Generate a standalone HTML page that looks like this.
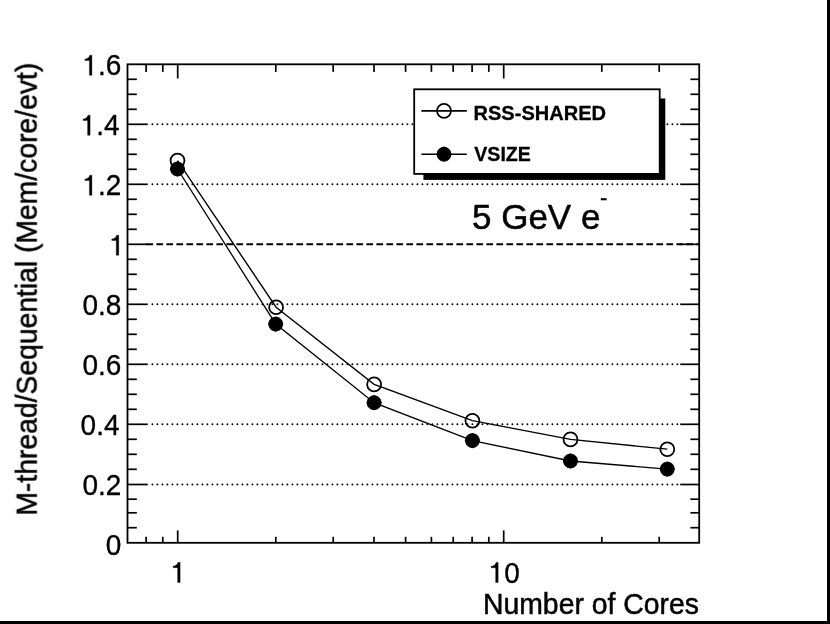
<!DOCTYPE html>
<html><head><meta charset="utf-8"><title>chart</title>
<style>html,body{margin:0;padding:0;background:#fff;}body{width:830px;height:624px;overflow:hidden;}svg{display:block;}text{font-family:"Liberation Sans",sans-serif;fill:#000;font-kerning:none;}</style>
</head><body>
<svg width="830" height="624" viewBox="0 0 830 624">
<defs><filter id="soft" x="-2%" y="-2%" width="104%" height="104%"><feGaussianBlur stdDeviation="0.6"/></filter></defs>
<rect x="0" y="0" width="830" height="624" fill="#fff"/>
<g filter="url(#soft)">
<g stroke="#000" stroke-width="1.9" stroke-dasharray="0.01 4.99" stroke-linecap="round" fill="none">
<line x1="152.4" y1="484.5" x2="678.7" y2="484.5" stroke-dashoffset="0.0"/>
<line x1="152.4" y1="424.3" x2="678.7" y2="424.3" stroke-dashoffset="0.0"/>
<line x1="152.4" y1="364.3" x2="678.7" y2="364.3" stroke-dashoffset="0.0"/>
<line x1="152.4" y1="304.3" x2="678.7" y2="304.3" stroke-dashoffset="0.0"/>
<line x1="152.4" y1="184.3" x2="678.7" y2="184.3" stroke-dashoffset="0.0"/>
<line x1="152.4" y1="124.3" x2="678.7" y2="124.3" stroke-dashoffset="0.0"/>
</g>
<line x1="146.4" y1="244.3" x2="699.2" y2="244.3" stroke="#000" stroke-width="1.9" stroke-dasharray="6.7 3.3"/>
<rect x="127.5" y="64.3" width="571.7" height="478.5" fill="none" stroke="#000" stroke-width="1.8"/>
<g stroke="#000" stroke-width="1.7" fill="none">
<line x1="127.5" y1="527.7" x2="136.8" y2="527.7"/>
<line x1="699.2" y1="527.7" x2="690.4" y2="527.7"/>
<line x1="127.5" y1="512.8" x2="136.8" y2="512.8"/>
<line x1="699.2" y1="512.8" x2="690.4" y2="512.8"/>
<line x1="127.5" y1="499.2" x2="136.8" y2="499.2"/>
<line x1="699.2" y1="499.2" x2="690.4" y2="499.2"/>
<line x1="127.5" y1="484.5" x2="147.8" y2="484.5"/>
<line x1="699.2" y1="484.5" x2="680.2" y2="484.5"/>
<line x1="127.5" y1="469.3" x2="136.8" y2="469.3"/>
<line x1="699.2" y1="469.3" x2="690.4" y2="469.3"/>
<line x1="127.5" y1="454.3" x2="136.8" y2="454.3"/>
<line x1="699.2" y1="454.3" x2="690.4" y2="454.3"/>
<line x1="127.5" y1="439.3" x2="136.8" y2="439.3"/>
<line x1="699.2" y1="439.3" x2="690.4" y2="439.3"/>
<line x1="127.5" y1="424.3" x2="147.8" y2="424.3"/>
<line x1="699.2" y1="424.3" x2="680.2" y2="424.3"/>
<line x1="127.5" y1="409.3" x2="136.8" y2="409.3"/>
<line x1="699.2" y1="409.3" x2="690.4" y2="409.3"/>
<line x1="127.5" y1="394.3" x2="136.8" y2="394.3"/>
<line x1="699.2" y1="394.3" x2="690.4" y2="394.3"/>
<line x1="127.5" y1="379.3" x2="136.8" y2="379.3"/>
<line x1="699.2" y1="379.3" x2="690.4" y2="379.3"/>
<line x1="127.5" y1="364.3" x2="147.8" y2="364.3"/>
<line x1="699.2" y1="364.3" x2="680.2" y2="364.3"/>
<line x1="127.5" y1="349.3" x2="136.8" y2="349.3"/>
<line x1="699.2" y1="349.3" x2="690.4" y2="349.3"/>
<line x1="127.5" y1="334.3" x2="136.8" y2="334.3"/>
<line x1="699.2" y1="334.3" x2="690.4" y2="334.3"/>
<line x1="127.5" y1="319.3" x2="136.8" y2="319.3"/>
<line x1="699.2" y1="319.3" x2="690.4" y2="319.3"/>
<line x1="127.5" y1="304.3" x2="147.8" y2="304.3"/>
<line x1="699.2" y1="304.3" x2="680.2" y2="304.3"/>
<line x1="127.5" y1="289.3" x2="136.8" y2="289.3"/>
<line x1="699.2" y1="289.3" x2="690.4" y2="289.3"/>
<line x1="127.5" y1="274.3" x2="136.8" y2="274.3"/>
<line x1="699.2" y1="274.3" x2="690.4" y2="274.3"/>
<line x1="127.5" y1="259.3" x2="136.8" y2="259.3"/>
<line x1="699.2" y1="259.3" x2="690.4" y2="259.3"/>
<line x1="127.5" y1="244.3" x2="147.8" y2="244.3"/>
<line x1="699.2" y1="244.3" x2="680.2" y2="244.3"/>
<line x1="127.5" y1="229.3" x2="136.8" y2="229.3"/>
<line x1="699.2" y1="229.3" x2="690.4" y2="229.3"/>
<line x1="127.5" y1="214.3" x2="136.8" y2="214.3"/>
<line x1="699.2" y1="214.3" x2="690.4" y2="214.3"/>
<line x1="127.5" y1="199.3" x2="136.8" y2="199.3"/>
<line x1="699.2" y1="199.3" x2="690.4" y2="199.3"/>
<line x1="127.5" y1="184.3" x2="147.8" y2="184.3"/>
<line x1="699.2" y1="184.3" x2="680.2" y2="184.3"/>
<line x1="127.5" y1="169.3" x2="136.8" y2="169.3"/>
<line x1="699.2" y1="169.3" x2="690.4" y2="169.3"/>
<line x1="127.5" y1="154.3" x2="136.8" y2="154.3"/>
<line x1="699.2" y1="154.3" x2="690.4" y2="154.3"/>
<line x1="127.5" y1="139.3" x2="136.8" y2="139.3"/>
<line x1="699.2" y1="139.3" x2="690.4" y2="139.3"/>
<line x1="127.5" y1="124.3" x2="147.8" y2="124.3"/>
<line x1="699.2" y1="124.3" x2="680.2" y2="124.3"/>
<line x1="127.5" y1="109.3" x2="136.8" y2="109.3"/>
<line x1="699.2" y1="109.3" x2="690.4" y2="109.3"/>
<line x1="127.5" y1="94.3" x2="136.8" y2="94.3"/>
<line x1="699.2" y1="94.3" x2="690.4" y2="94.3"/>
<line x1="127.5" y1="79.3" x2="136.8" y2="79.3"/>
<line x1="699.2" y1="79.3" x2="690.4" y2="79.3"/>
<line x1="146.1" y1="542.8" x2="146.1" y2="536.8"/>
<line x1="146.1" y1="64.3" x2="146.1" y2="71.9"/>
<line x1="162.8" y1="542.8" x2="162.8" y2="536.8"/>
<line x1="162.8" y1="64.3" x2="162.8" y2="71.9"/>
<line x1="177.7" y1="542.8" x2="177.7" y2="530.4"/>
<line x1="177.7" y1="64.3" x2="177.7" y2="78.5"/>
<line x1="275.8" y1="542.8" x2="275.8" y2="536.8"/>
<line x1="275.8" y1="64.3" x2="275.8" y2="71.9"/>
<line x1="333.2" y1="542.8" x2="333.2" y2="536.8"/>
<line x1="333.2" y1="64.3" x2="333.2" y2="71.9"/>
<line x1="374.0" y1="542.8" x2="374.0" y2="536.8"/>
<line x1="374.0" y1="64.3" x2="374.0" y2="71.9"/>
<line x1="405.6" y1="542.8" x2="405.6" y2="536.8"/>
<line x1="405.6" y1="64.3" x2="405.6" y2="71.9"/>
<line x1="431.4" y1="542.8" x2="431.4" y2="536.8"/>
<line x1="431.4" y1="64.3" x2="431.4" y2="71.9"/>
<line x1="453.2" y1="542.8" x2="453.2" y2="536.8"/>
<line x1="453.2" y1="64.3" x2="453.2" y2="71.9"/>
<line x1="472.1" y1="542.8" x2="472.1" y2="536.8"/>
<line x1="472.1" y1="64.3" x2="472.1" y2="71.9"/>
<line x1="488.8" y1="542.8" x2="488.8" y2="536.8"/>
<line x1="488.8" y1="64.3" x2="488.8" y2="71.9"/>
<line x1="503.7" y1="542.8" x2="503.7" y2="530.4"/>
<line x1="503.7" y1="64.3" x2="503.7" y2="78.5"/>
<line x1="601.8" y1="542.8" x2="601.8" y2="536.8"/>
<line x1="601.8" y1="64.3" x2="601.8" y2="71.9"/>
<line x1="659.2" y1="542.8" x2="659.2" y2="536.8"/>
<line x1="659.2" y1="64.3" x2="659.2" y2="71.9"/>
</g>
<polyline points="177.5,160.6 276.1,307.2 374.1,384.4 472.4,420.7 570.5,439.4 667.3,449.2" fill="none" stroke="#000" stroke-width="1.35"/>
<polyline points="177.5,169.0 275.7,324.1 374.1,402.7 472.4,440.6 570.5,461.0 667.3,469.1" fill="none" stroke="#000" stroke-width="1.35"/>
<circle cx="177.5" cy="160.6" r="6.95" fill="none" stroke="#000" stroke-width="1.75"/>
<circle cx="276.1" cy="307.2" r="6.95" fill="none" stroke="#000" stroke-width="1.75"/>
<circle cx="374.1" cy="384.4" r="6.95" fill="none" stroke="#000" stroke-width="1.75"/>
<circle cx="472.4" cy="420.7" r="6.95" fill="none" stroke="#000" stroke-width="1.75"/>
<circle cx="570.5" cy="439.4" r="6.95" fill="none" stroke="#000" stroke-width="1.75"/>
<circle cx="667.3" cy="449.2" r="6.95" fill="none" stroke="#000" stroke-width="1.75"/>
<circle cx="177.5" cy="169.0" r="7.4" fill="#000" fill-opacity="0.6"/><polygon points="177.5,161.4 181.2,162.7 183.8,165.3 185.1,169.0 183.8,172.7 181.2,175.3 177.5,176.6 173.8,175.3 171.2,172.7 169.9,169.0 171.2,165.3 173.8,162.7" fill="#000"/>
<circle cx="275.7" cy="324.1" r="7.4" fill="#000" fill-opacity="0.6"/><polygon points="275.7,316.5 279.4,317.8 282.0,320.4 283.3,324.1 282.0,327.8 279.4,330.4 275.7,331.7 272.0,330.4 269.4,327.8 268.1,324.1 269.4,320.4 272.0,317.8" fill="#000"/>
<circle cx="374.1" cy="402.7" r="7.4" fill="#000" fill-opacity="0.6"/><polygon points="374.1,395.1 377.8,396.4 380.4,399.0 381.7,402.7 380.4,406.4 377.8,409.0 374.1,410.3 370.4,409.0 367.8,406.4 366.5,402.7 367.8,399.0 370.4,396.4" fill="#000"/>
<circle cx="472.4" cy="440.6" r="7.4" fill="#000" fill-opacity="0.6"/><polygon points="472.4,433.0 476.1,434.3 478.7,436.9 480.0,440.6 478.7,444.3 476.1,446.9 472.4,448.2 468.7,446.9 466.1,444.3 464.8,440.6 466.1,436.9 468.7,434.3" fill="#000"/>
<circle cx="570.5" cy="461.0" r="7.4" fill="#000" fill-opacity="0.6"/><polygon points="570.5,453.4 574.2,454.7 576.8,457.3 578.1,461.0 576.8,464.7 574.2,467.3 570.5,468.6 566.8,467.3 564.2,464.7 562.9,461.0 564.2,457.3 566.8,454.7" fill="#000"/>
<circle cx="667.3" cy="469.1" r="7.4" fill="#000" fill-opacity="0.6"/><polygon points="667.3,461.5 671.0,462.8 673.6,465.4 674.9,469.1 673.6,472.8 671.0,475.4 667.3,476.7 663.6,475.4 661.0,472.8 659.7,469.1 661.0,465.4 663.6,462.8" fill="#000"/>
<rect x="423.4" y="98.5" width="241.9" height="81.4" fill="#000"/>
<rect x="414.2" y="89.3" width="245.5" height="84.6" fill="#fff" stroke="#000" stroke-width="1.8"/>
<line x1="421.4" y1="110.9" x2="466.8" y2="110.9" stroke="#000" stroke-width="1.6"/>
<circle cx="444" cy="110.9" r="6.95" fill="none" stroke="#000" stroke-width="1.75"/>
<line x1="421.4" y1="154.2" x2="466.8" y2="154.2" stroke="#000" stroke-width="1.6"/>
<circle cx="444.0" cy="154.2" r="7.4" fill="#000" fill-opacity="0.6"/><polygon points="444.0,146.6 447.7,147.9 450.3,150.5 451.6,154.2 450.3,157.9 447.7,160.5 444.0,161.8 440.3,160.5 437.7,157.9 436.4,154.2 437.7,150.5 440.3,147.9" fill="#000"/>
<text transform="translate(473.50,119.80) scale(1.0130,1.0450)" font-size="19.8" text-anchor="start" stroke="#000" stroke-width="0.29" stroke-linejoin="round" font-weight="bold">RSS-SHARED</text>
<text transform="translate(474.30,161.20) scale(0.9900,1.0450)" font-size="19.8" text-anchor="start" stroke="#000" stroke-width="0.29" stroke-linejoin="round" font-weight="bold">VSIZE</text>
<text transform="translate(472.00,229.30) scale(1.0000,1.0250)" font-size="35" text-anchor="start" stroke="#000" stroke-width="0.49" stroke-linejoin="round">5 GeV e</text>
<rect x="600.8" y="198.2" width="5.8" height="2.1" fill="#000"/>
<text transform="translate(105.73,555.00) scale(1.0000,1.0450)" font-size="28" text-anchor="start" stroke="#000" stroke-width="0.33" stroke-linejoin="round">0</text>
<text transform="translate(82.38,495.30) scale(1.0000,1.0450)" font-size="28" text-anchor="start" stroke="#000" stroke-width="0.33" stroke-linejoin="round">0.2</text>
<text transform="translate(80.58,435.30) scale(1.0000,1.0450)" font-size="28" text-anchor="start" stroke="#000" stroke-width="0.33" stroke-linejoin="round">0.4</text>
<text transform="translate(82.38,375.30) scale(1.0000,1.0450)" font-size="28" text-anchor="start" stroke="#000" stroke-width="0.33" stroke-linejoin="round">0.6</text>
<text transform="translate(82.38,315.30) scale(1.0000,1.0450)" font-size="28" text-anchor="start" stroke="#000" stroke-width="0.33" stroke-linejoin="round">0.8</text>
<path transform="translate(109.23,255.30) scale(0.013672,-0.014287)" d="M515 0V1040H185V1140C370 1155 495 1245 545 1409H696V0Z" fill="#000" stroke="#000" stroke-width="0.35" vector-effect="non-scaling-stroke" stroke-linejoin="round"/>
<path transform="translate(82.38,195.30) scale(0.013672,-0.014287)" d="M515 0V1040H185V1140C370 1155 495 1245 545 1409H696V0Z" fill="#000" stroke="#000" stroke-width="0.35" vector-effect="non-scaling-stroke" stroke-linejoin="round"/>
<text transform="translate(97.95,195.30) scale(1.0000,1.0450)" font-size="28" text-anchor="start" stroke="#000" stroke-width="0.33" stroke-linejoin="round">.2</text>
<path transform="translate(80.58,135.30) scale(0.013672,-0.014287)" d="M515 0V1040H185V1140C370 1155 495 1245 545 1409H696V0Z" fill="#000" stroke="#000" stroke-width="0.35" vector-effect="non-scaling-stroke" stroke-linejoin="round"/>
<text transform="translate(96.15,135.30) scale(1.0000,1.0450)" font-size="28" text-anchor="start" stroke="#000" stroke-width="0.33" stroke-linejoin="round">.4</text>
<path transform="translate(82.38,75.30) scale(0.013672,-0.014287)" d="M515 0V1040H185V1140C370 1155 495 1245 545 1409H696V0Z" fill="#000" stroke="#000" stroke-width="0.35" vector-effect="non-scaling-stroke" stroke-linejoin="round"/>
<text transform="translate(97.95,75.30) scale(1.0000,1.0450)" font-size="28" text-anchor="start" stroke="#000" stroke-width="0.33" stroke-linejoin="round">.6</text>
<path transform="translate(170.61,582.50) scale(0.013672,-0.014287)" d="M515 0V1040H185V1140C370 1155 495 1245 545 1409H696V0Z" fill="#000" stroke="#000" stroke-width="0.35" vector-effect="non-scaling-stroke" stroke-linejoin="round"/>
<path transform="translate(488.63,582.60) scale(0.013672,-0.014287)" d="M515 0V1040H185V1140C370 1155 495 1245 545 1409H696V0Z" fill="#000" stroke="#000" stroke-width="0.35" vector-effect="non-scaling-stroke" stroke-linejoin="round"/>
<text transform="translate(504.20,582.60) scale(1.0000,1.0450)" font-size="28" text-anchor="start" stroke="#000" stroke-width="0.33" stroke-linejoin="round">0</text>
<text transform="translate(699.00,613.70) scale(1.0140,1.0450)" font-size="28" text-anchor="end" stroke="#000" stroke-width="0.48" stroke-linejoin="round">Number of Cores</text>
<text transform="translate(36.90,62.80) rotate(-90) scale(1.0110,1.0450)" font-size="28" text-anchor="end" stroke="#000" stroke-width="0.48" stroke-linejoin="round">M-thread/Sequential (Mem/core/evt)</text>
</g>
<rect x="827" y="0" width="3" height="624" fill="#000"/>
<rect x="0" y="621" width="830" height="3" fill="#000"/>
</svg></body></html>
